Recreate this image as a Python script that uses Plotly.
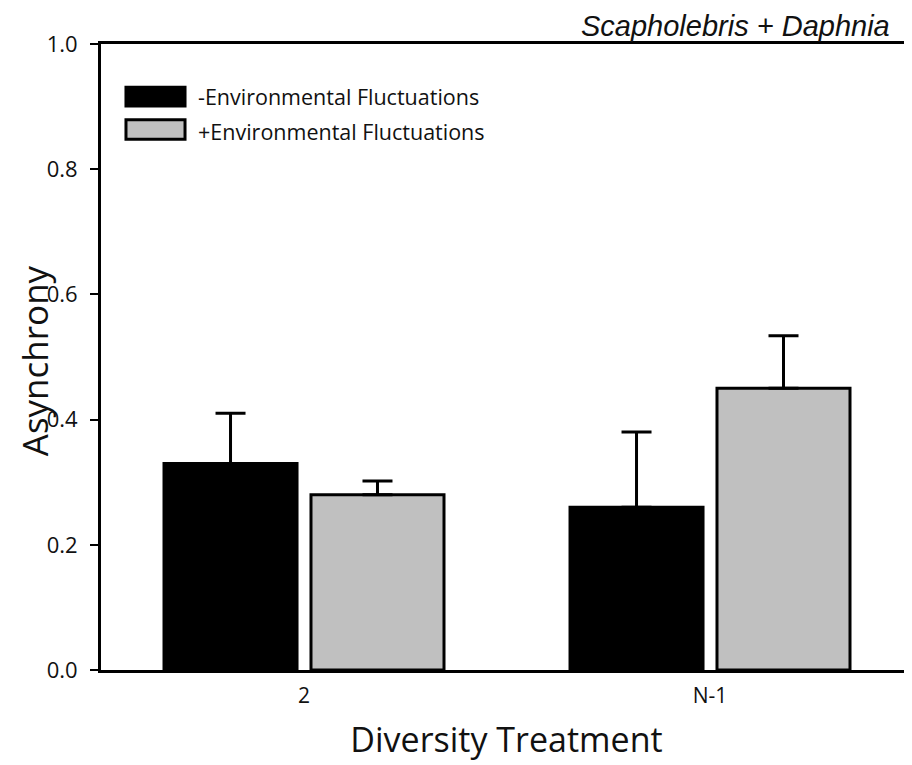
import plotly.graph_objects as go

categories = ["2", "N-1"]
series_names = ["-Environmental Fluctuations", "+Environmental Fluctuations"]
minus_env = [0.33, 0.26]
minus_env_err = [0.08, 0.12]
plus_env = [0.28, 0.45]
plus_env_err = [0.022, 0.084]
y_ticks = [0.0, 0.2, 0.4, 0.6, 0.8, 1.0]
colors = ["#000000", "#c0c0c0"]

FONT = "Open Sans"

fig = go.Figure()
for name, vals, errs, col in [
    (series_names[0], minus_env, minus_env_err, colors[0]),
    (series_names[1], plus_env, plus_env_err, colors[1]),
]:
    fig.add_trace(go.Bar(
        x=categories, y=vals, name=name,
        marker=dict(color=col, line=dict(color="black", width=3)),
        error_y=dict(type="data", array=errs, arrayminus=[0] * len(errs),
                     symmetric=False, color="black", thickness=3, width=15),
        showlegend=False,
    ))

# manual legend with wide swatches
sw = [(0.931, 0.901), (0.879, 0.848)]
text_y = [0.916, 0.860]
for i, (name, col) in enumerate(zip(series_names, colors)):
    y1, y0 = sw[i]
    fig.add_shape(type="rect", xref="paper", yref="paper",
                  x0=0.0308, x1=0.1036, y0=y0, y1=y1,
                  fillcolor=col, line=dict(color="black", width=3))
    fig.add_annotation(xref="paper", yref="paper", x=0.117, y=text_y[i],
                       text=name, showarrow=False, xanchor="left", yanchor="middle",
                       font=dict(family=FONT, size=21.5, color="#111"))

fig.add_annotation(xref="paper", yref="paper", x=0.975, y=1.0,
                   text="<i>Scapholebris + Daphnia</i>", showarrow=False,
                   xanchor="right", yanchor="bottom",
                   font=dict(family="Liberation Sans", size=29, color="#111"))

# y-axis title as rotated annotation
fig.add_annotation(xref="paper", yref="paper", x=-0.082, y=0.494,
                   text="Asynchrony", showarrow=False, textangle=-90,
                   xanchor="center", yanchor="middle",
                   font=dict(family=FONT, size=35, color="#111"))

# page body has an 8px margin, so the figure is offset by (8, 8)
fig.update_layout(
    width=904, height=757,
    margin=dict(l=93, r=0, t=36, b=95),
    plot_bgcolor="white", paper_bgcolor="white",
    barmode="group", bargap=0.276, bargroupgap=0.095,
    font=dict(family=FONT, color="#111"),
    xaxis=dict(range=[-0.5, 1.4975], showline=True, linecolor="black", linewidth=3,
               mirror=True, ticks="", tickfont=dict(size=21), ticklabelstandoff=5,
               title=dict(text="Diversity Treatment", font=dict(size=34), standoff=20),
               showgrid=False, zeroline=False),
    yaxis=dict(range=[0, 1], tickvals=y_ticks, tickformat=".1f",
               showline=True, linecolor="black", linewidth=3,
               ticks="outside", ticklen=8, tickwidth=2, tickcolor="black",
               tickfont=dict(size=22), ticklabelstandoff=8,
               showgrid=False, zeroline=False),
)

fig.write_html("out.html")
